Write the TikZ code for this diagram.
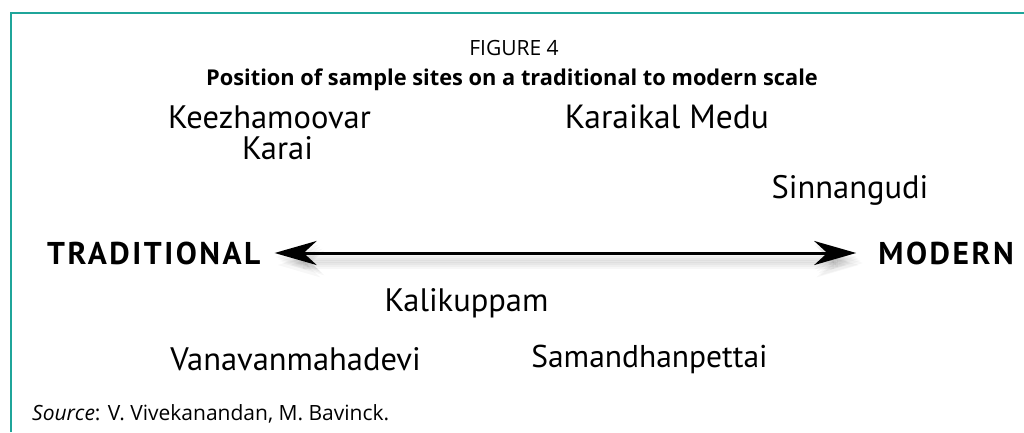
\documentclass[tikz,border=0pt]{standalone}
\usepackage{fontspec}
\setmainfont{Open Sans}
\newfontfamily\labfont{PT Sans}
\newfontfamily\polefont[LetterSpace=8]{PT Sans}
\usetikzlibrary{arrows.meta}
\definecolor{frameteal}{HTML}{1FA59A}
\begin{document}
\begin{tikzpicture}[x=1pt,y=1pt,
  site/.style={font=\labfont\fontsize{32.5}{36}\selectfont, inner sep=0pt, anchor=center},
  pole/.style={font=\polefont\bfseries\fontsize{31.5}{34}\selectfont, inner sep=0pt},
  captext/.style={inner sep=0pt},
  scaletips/.style={{Stealth[length=42pt,width=24pt,inset=13pt]}-{Stealth[length=42pt,width=24pt,inset=13pt]}},
  scalearrow/.style={line width=3pt, scaletips},
  shadowarrow/.style={line width=7pt, scaletips, black, opacity=0.03}]
\useasboundingbox (0,0) rectangle (1024,432);
\fill[white] (0,0) rectangle (1024,432);
\draw[frameteal, line width=2pt] (11,0) -- (11,419) -- (1024,419);
% captions
\node[captext, anchor=base, font=\fontsize{21}{24}\selectfont] (fig) at (514,376) {FIGURE 4};
\node[captext, anchor=base, font=\bfseries\fontsize{21.8}{24}\selectfont] (title) at (512,346) {Position of sample sites on a traditional to modern scale};
% sites
\node[site] (kee) at (269.5,315) {Keezhamoovar};
\node[site] (kar) at (277.5,284) {Karai};
\node[site, font=\labfont\fontsize{33.5}{36}\selectfont] (km) at (667,315) {Karaikal Medu};
\node[site] (sin) at (850,242) {Sinnangudi};
\node[site] (kal) at (466.5,129) {Kalikuppam};
\node[site] (van) at (295.5,73) {Vanavanmahadevi};
\node[site, font=\labfont\fontsize{31.5}{36}\selectfont] (sam) at (649.5,73) {Samandhanpettai};
% poles
\node[pole, anchor=west] (trad) at (47,179) {TRADITIONAL};
\node[pole, anchor=east] (mod) at (1014,179) {MODERN};
% blurred shadow
\foreach \dx/\dy in {1/-4, 3/-6, 5/-8, 7/-10, 3/-12} {
  \draw[shadowarrow, shorten <=14pt, shorten >=22pt] ([shift={(\dx,\dy)}]trad.east) -- ([shift={(\dx,\dy)}]mod.west);
}
\draw[scalearrow, shorten <=14pt, shorten >=22pt] (trad.east) -- (mod.west);
% source
\node[captext, anchor=base west, font=\fontsize{21}{24}\selectfont] (src) at (32,12) {\textit{Source}: V. Vivekanandan, M. Bavinck.};
\end{tikzpicture}
\end{document}
